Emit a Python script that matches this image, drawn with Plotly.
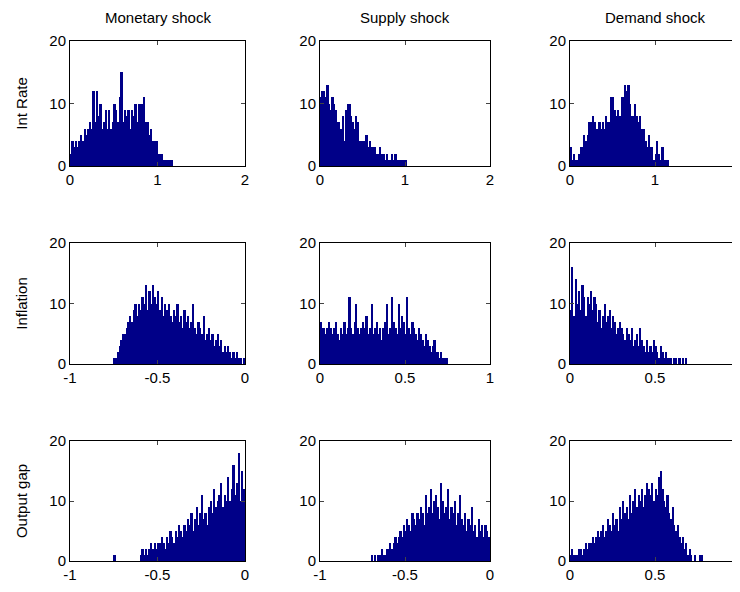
import plotly.graph_objects as go

# column / row labels
col_titles = ["Monetary shock", "Supply shock", "Demand shock"]
row_titles = ["Int Rate", "Inflation", "Output gap"]

# histogram counts, per panel (start of first bin, bin width, counts)
int_monetary = [2,4,3,4,3,4,5,4,6,5,6,7,6,12,7,12,8,10,6,7,9,6,9,6,7,10,9,7,11,15,7,9,8,9,6,9,8,10,7,10,10,10,11,7,7,5,6,4,4,4,2,2,2,1,1,1,1,1,1]
int_supply = [11,12,12,11,13,10,9,11,10,9,7,7,6,8,4,9,10,10,8,7,6,8,7,4,4,4,4,5,3,4,3,3,3,2,2,3,2,2,1,2,1,1,2,1,2,1,1,1,1,1,1]
int_demand = [3,1,2,1,1,2,3,3,5,4,5,7,7,8,7,6,6,7,6,7,6,8,7,7,11,11,9,8,9,8,11,11,13,12,13,10,8,8,10,8,7,8,6,6,4,3,5,3,3,1,2,4,2,1,3,1,1,1]
inf_monetary = [1,1,2,3,4,5,5,6,7,8,7,9,10,8,10,9,11,10,13,9,12,10,13,11,10,12,9,11,8,10,9,10,8,7,9,8,10,7,8,6,9,7,8,6,7,10,6,5,7,6,5,8,4,5,6,4,5,3,4,5,3,4,2,3,2,3,2,1,2,1,2,1,1,0,1]
inf_supply = [7,6,6,5,6,7,6,5,6,7,5,4,6,5,7,5,6,11,6,5,7,10,6,5,6,7,6,8,5,6,10,5,6,7,5,6,4,6,7,10,5,6,11,7,6,5,10,6,8,7,5,11,6,5,7,6,5,4,6,5,4,3,5,4,3,2,3,4,2,2,1,2,1,1,1]
inf_demand = [9,16,8,14,10,12,9,13,11,8,11,10,12,9,11,10,7,9,6,8,10,7,8,9,6,8,7,5,6,7,6,5,4,6,5,4,6,3,4,5,3,6,4,3,2,4,2,3,2,4,3,2,1,3,2,1,2,1,1,1,0,1,1,0,1,0,1,0,1,0]
gap_monetary = [1,0,0,0,0,0,0,0,0,0,0,0,0,0,0,1,2,1,2,1,2,3,2,3,2,3,3,4,3,2,4,3,5,4,3,5,4,6,5,4,6,5,7,6,8,5,7,9,6,8,11,7,8,6,9,10,8,12,9,10,11,13,9,11,10,14,10,12,16,11,13,18,10,15,12]
gap_supply = [1,0,1,0,1,1,2,1,1,2,2,3,2,3,4,3,4,5,4,6,5,7,6,5,8,7,6,8,7,9,8,6,11,8,9,12,8,10,11,9,7,13,10,8,9,12,7,9,8,10,6,8,11,7,6,8,5,7,6,9,5,6,4,7,5,6,4,6,5,4]
gap_demand = [1,2,1,1,1,2,2,1,2,3,2,3,3,4,3,4,5,4,5,6,4,5,7,6,5,8,6,7,5,9,7,10,8,9,7,11,8,10,12,9,11,10,12,9,11,13,12,11,13,10,12,11,14,15,12,10,9,11,8,7,9,6,5,6,4,3,4,2,3,1,2,1,0,1,0,0,1,1]

panels = [
    [(0, 0.02, int_monetary, [0, 2]), (0, 0.02, int_supply, [0, 2]), (0, 0.02, int_demand, [0, 2])],
    [(-0.75, 0.01, inf_monetary, [-1, 0]), (0, 0.01, inf_supply, [0, 1]), (0, 0.01, inf_demand, [0, 1])],
    [(-0.75, 0.01, gap_monetary, [-1, 0]), (-0.7, 0.01, gap_supply, [-1, 0]), (0, 0.01, gap_demand, [0, 1])],
]

W, H = 740, 592
xdom = [[62/W, 237/W], [312/W, 482/W], [562/W, 732/W]]
ydom = [[1-158/H, 1-33/H], [1-356/H, 1-235/H], [1-553/H, 1-433/H]]

fig = go.Figure()
font = dict(family="Arial", size=15, color="black")
n = 0
for r in range(3):
    for c in range(3):
        n += 1
        start, w, counts, rng = panels[r][c]
        centers = [start + w * (i + 0.5) for i in range(len(counts))]
        xa = "x" if n == 1 else f"x{n}"
        ya = "y" if n == 1 else f"y{n}"
        fig.add_trace(go.Bar(x=centers, y=counts, width=w, xaxis=xa, yaxis=ya,
                             marker=dict(color="#000088", line=dict(width=0)),
                             showlegend=False))
        step = (rng[1] - rng[0]) / 2
        tv = [rng[0], rng[0] + step, rng[1]]
        tt = ["%g" % v for v in tv]
        ax = dict(domain=xdom[c], range=rng, tickvals=tv, ticktext=tt, ticks="inside",
                  ticklen=4, showline=True, linecolor="black", mirror="ticks",
                  showgrid=False, zeroline=False, tickfont=font, anchor=ya, automargin=False)
        ay = dict(domain=ydom[r], range=[0, 20], tickvals=[0, 10, 20], ticks="inside",
                  ticklen=4, showline=True, linecolor="black", mirror="ticks",
                  showgrid=False, zeroline=False, tickfont=font, anchor=xa, automargin=False)
        if c == 0:
            ay["title"] = dict(text=row_titles[r], font=font, standoff=18)
        fig.layout["xaxis" if n == 1 else f"xaxis{n}"] = ax
        fig.layout["yaxis" if n == 1 else f"yaxis{n}"] = ay

for c in range(3):
    fig.add_annotation(x=(xdom[c][0] + xdom[c][1]) / 2, y=1 - 9/H, xref="paper", yref="paper",
                       xanchor="center", yanchor="middle",
                       text=col_titles[c], showarrow=False, font=font)

fig.update_layout(width=W, height=H, margin=dict(l=0, r=0, t=0, b=0, autoexpand=False),
                  paper_bgcolor="white", plot_bgcolor="white", bargap=0)
fig.write_html("out.html")
